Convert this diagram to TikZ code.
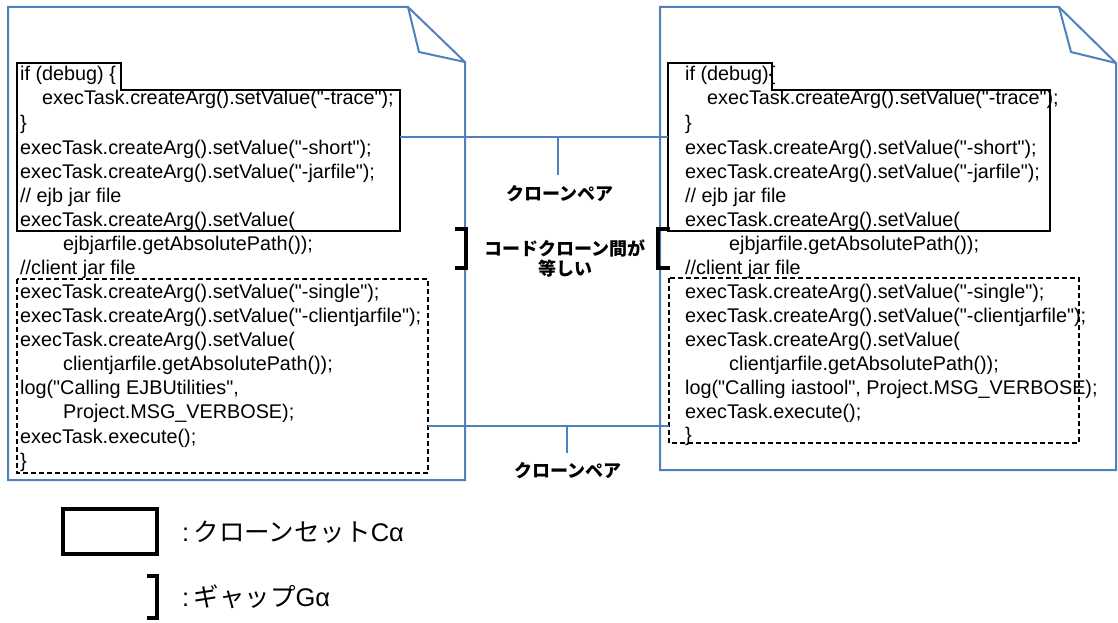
\documentclass[tikz,border=0pt]{standalone}
\usepackage{fontspec}
\setmainfont{Liberation Sans}[Ligatures=TeXOff]
\newfontfamily\jpfont{Noto Sans CJK JP}
\definecolor{docblue}{RGB}{79,129,189}

\begin{document}
\begin{tikzpicture}[x=1pt,y=-1pt,
  doc/.style={draw=docblue, line width=2pt, line join=miter},
  link/.style={draw=docblue, line width=2pt},
  cloneset/.style={draw=black, line width=1.8pt, line join=miter},
  clonedash/.style={draw=black, line width=1.8pt, dash pattern=on 5pt off 3pt},
  gapmark/.style={draw=black, line width=3.5pt, line join=miter},
  legendbox/.style={draw=black, line width=3.2pt},
  code/.style={anchor=base west, inner sep=0pt, font=\fontsize{19.8}{24}\selectfont},
  pairlabel/.style={inner sep=0pt, align=center, font=\jpfont\bfseries\fontsize{18}{20}\selectfont},
  legendtext/.style={anchor=west, inner sep=0pt, font=\fontsize{25.5}{28}\selectfont}]
\useasboundingbox (0,0) rectangle (1118,623);

% ---- documents (page outlines with folded corner) ----
\draw[doc] (8,7) -- (408,7) -- (465,62) -- (465,480) -- (8,480) -- cycle;
\draw[doc] (408,7) -- (419,52) -- (465,62);
\draw[doc] (660,7) -- (1059,7) -- (1116,63) -- (1116,470) -- (660,470) -- cycle;
\draw[doc] (1059,7) -- (1071,52) -- (1116,63);

% ---- clone sets ----
\draw[cloneset] (17,63) -- (121,63) -- (121,90) -- (400,90) -- (400,231) -- (17,231) -- cycle;
\draw[clonedash] (17,279) rectangle (428,473);
\draw[cloneset] (668,63) -- (772,63) -- (772,90) -- (1050,90) -- (1050,231) -- (668,231) -- cycle;
\draw[clonedash] (669,278) rectangle (1079,443);

% ---- gaps ----
\draw[gapmark] (455,229) -- (466,229) -- (466,268) -- (455,268);
\draw[gapmark] (670,229) -- (658,229) -- (658,268) -- (670,268);

% ---- left code ----
\node[code] (l1)  at (20,81)  {if (debug) \{};
\node[code] (l2)  at (42,105) {execTask.createArg().setValue("-trace");};
\node[code] (l3)  at (20,129) {\}};
\node[code] (l4)  at (20,154) {execTask.createArg().setValue("-short");};
\node[code] (l5)  at (20,178) {execTask.createArg().setValue("-jarfile");};
\node[code] (l6)  at (20,202) {// ejb jar file};
\node[code] (l7)  at (20,226) {execTask.createArg().setValue(};
\node[code] (l8)  at (63,250) {ejbjarfile.getAbsolutePath());};
\node[code] (l9)  at (20,274) {//client jar file};
\node[code] (l10) at (20,298) {execTask.createArg().setValue("-single");};
\node[code] (l11) at (20,322) {execTask.createArg().setValue("-clientjarfile");};
\node[code] (l12) at (20,346) {execTask.createArg().setValue(};
\node[code] (l13) at (63,370) {clientjarfile.getAbsolutePath());};
\node[code] (l14) at (20,394) {log("Calling EJBUtilities",};
\node[code] (l15) at (63,418) {Project.MSG\_VERBOSE);};
\node[code] (l16) at (20,443) {execTask.execute();};
\node[code] (l17) at (20,467) {\}};

% ---- right code ----
\node[code] (r1)  at (685,81)  {if (debug)\{};
\node[code] (r2)  at (707,105) {execTask.createArg().setValue("-trace");};
\node[code] (r3)  at (685,129) {\}};
\node[code] (r4)  at (685,154) {execTask.createArg().setValue("-short");};
\node[code] (r5)  at (685,178) {execTask.createArg().setValue("-jarfile");};
\node[code] (r6)  at (685,202) {// ejb jar file};
\node[code] (r7)  at (685,226) {execTask.createArg().setValue(};
\node[code] (r8)  at (729,250) {ejbjarfile.getAbsolutePath());};
\node[code] (r9)  at (685,274) {//client jar file};
\node[code] (r10) at (685,298) {execTask.createArg().setValue("-single");};
\node[code] (r11) at (685,322) {execTask.createArg().setValue("-clientjarfile");};
\node[code] (r12) at (685,346) {execTask.createArg().setValue(};
\node[code] (r13) at (729,370) {clientjarfile.getAbsolutePath());};
\node[code] (r14) at (685,394) {log("Calling iastool", Project.MSG\_VERBOSE);};
\node[code] (r15) at (685,418) {execTask.execute();};
\node[code] (r16) at (685,441) {\}};

% ---- clone pair links ----
\coordinate (setL) at (400,137);
\coordinate (setR) at (668,137);
\coordinate (tapA) at (558,137);
\coordinate (tapAend) at (558,175);
\draw[link] (setL) -- (setR);
\draw[link] (tapA) -- (tapAend);

\coordinate (dashL) at (428,426);
\coordinate (dashR) at (669,426);
\coordinate (tapB) at (567,426);
\coordinate (tapBend) at (567,453);
\draw[link] (dashL) -- (dashR);
\draw[link] (tapB) -- (tapBend);

\node[pairlabel] (pairA) at (560,194) {クローンペア};
\node[pairlabel] (pairB) at (568,471) {クローンペア};
\node[pairlabel] (gapnote) at (565,258) {コードクローン間が\\等しい};

% ---- legend ----
\draw[legendbox] (63,509) rectangle (157,554);
\draw[gapmark] (147,576) -- (157,576) -- (157,618) -- (147,618);
\node[legendtext] (legset) at (182,532) {:\,{\jpfont クローンセット}Cα};
\node[legendtext] (leggap) at (182,597) {:\,{\jpfont ギャップ}Gα};
\end{tikzpicture}
\end{document}
